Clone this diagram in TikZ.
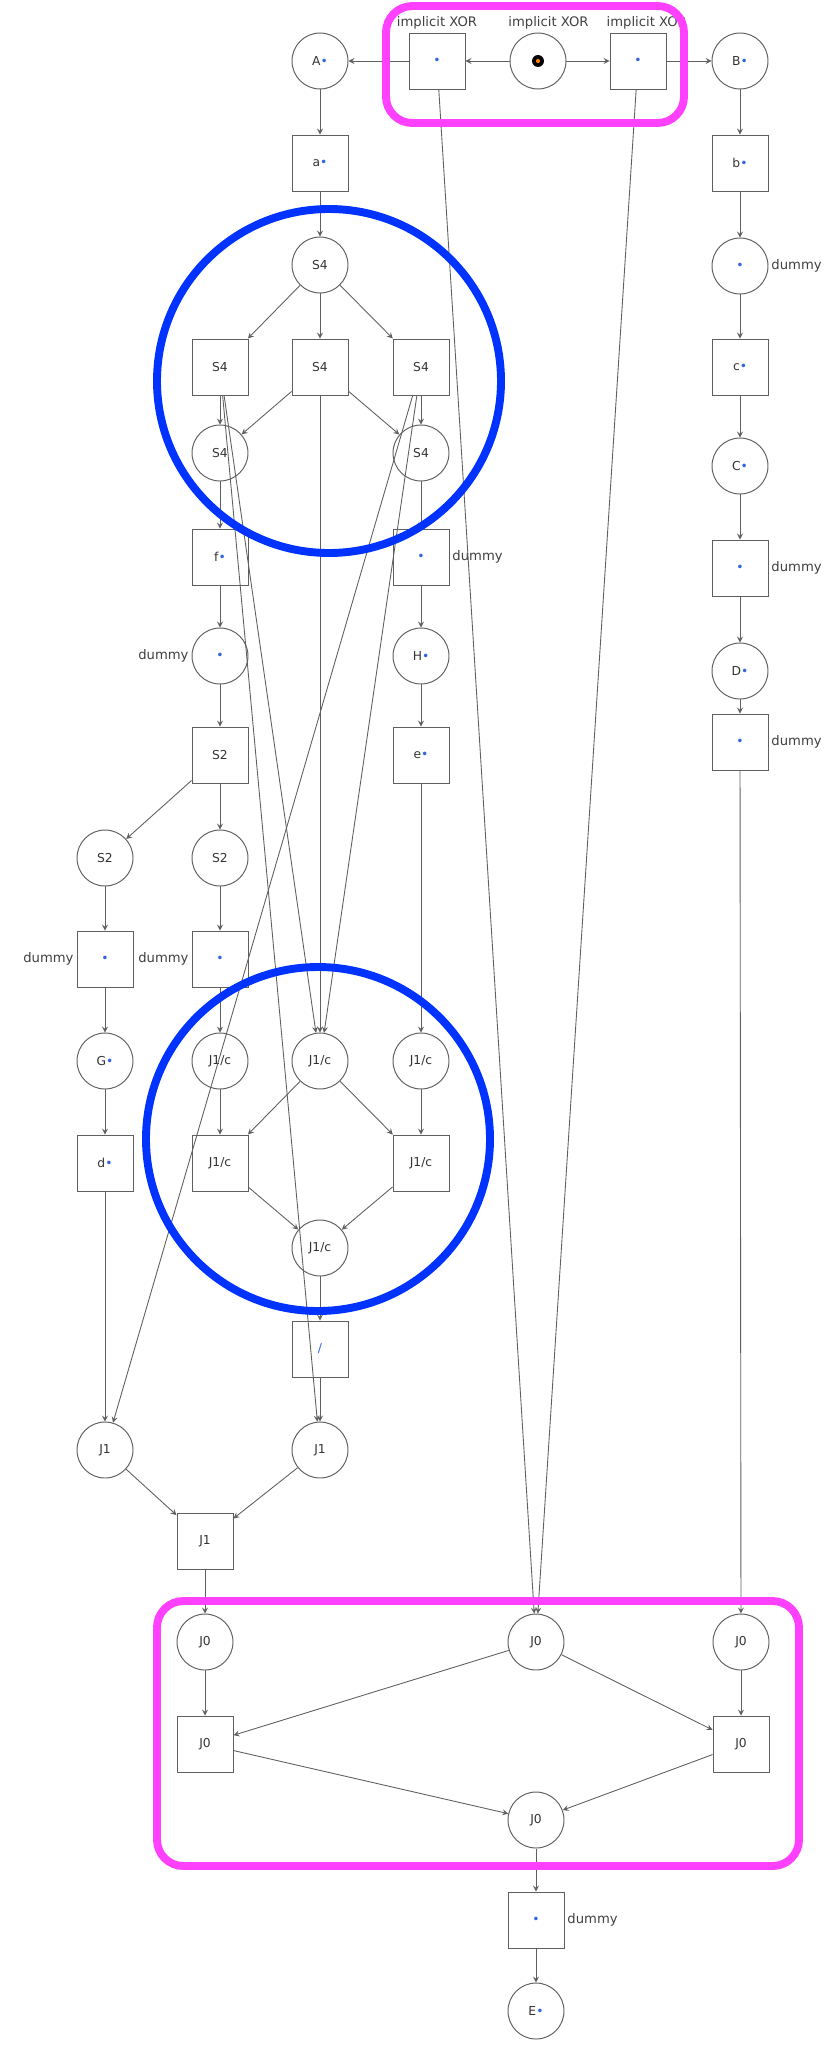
\documentclass[tikz,border=0pt]{standalone}
\usepackage{fontspec}
\setmainfont{DejaVu Sans}
\usepackage{tikz}
\definecolor{tokblue}{RGB}{50,100,230}
\definecolor{ringblue}{RGB}{0,51,255}
\definecolor{boxpink}{RGB}{255,64,255}
\definecolor{netgray}{RGB}{95,95,95}
\newcommand{\tk}{\textcolor{tokblue}{\textbullet}}

\begin{document}
\begin{tikzpicture}[x=0.02cm, y=-0.02cm, >=stealth, font=\fontsize{7.5}{9}\selectfont,
  place/.style={circle, draw=netgray, line width=0.55pt, minimum size=1.12cm, inner sep=0pt,
    text=black!80, font=\fontsize{7}{8}\selectfont},
  trans/.style={rectangle, draw=netgray, line width=0.55pt, minimum size=1.12cm, inner sep=0pt,
    text=black!80, font=\fontsize{7}{8}\selectfont},
  flow/.style={->, draw=netgray, line width=0.5pt},
  note/.style={text=black!75, inner sep=1.5pt, font=\fontsize{7.5}{9}\selectfont}]
\useasboundingbox (0,0) rectangle (826,2048);
% top row with the implicit XOR split
\node[place] (A) at (320,61) {A\tk};
\node[trans, label={[note]above:implicit XOR}] (xl) at (437,61) {\tk};
\node[place, label={[note, xshift=6pt]above:implicit XOR}] (start) at (538,61) {};
\node[trans, label={[note, xshift=5pt]above:implicit XOR}] (xr) at (638,61) {\tk};
\node[place] (B) at (740,61) {B\tk};
\fill[black] (start) circle [radius=3.4pt];
\fill[orange] (start) circle [radius=1.2pt];
% left branch: S4 split
\node[trans] (a) at (320,163) {a\tk};
\node[place] (s4) at (320,265) {S4};
\node[trans] (s4l) at (220,367) {S4};
\node[trans] (s4m) at (320,367) {S4};
\node[trans] (s4r) at (421,367) {S4};
\node[place] (s4pl) at (220,453) {S4};
\node[place] (s4pr) at (421,453) {S4};
\node[trans] (f) at (220,557) {f\tk};
\node[trans, label={[note]right:dummy}] (dr1) at (421,557) {\tk};
\node[place, label={[note]left:dummy}] (dp1) at (220,656) {\tk};
\node[place] (H) at (421,656) {H\tk};
\node[trans] (s2) at (220,755) {S2};
\node[trans] (e) at (421,755) {e\tk};
\node[place] (s2pl) at (105,858) {S2};
\node[place] (s2pr) at (220,858) {S2};
\node[trans, label={[note]left:dummy}] (dl2) at (105,959) {\tk};
\node[trans, label={[note]left:dummy}] (dr2) at (220,959) {\tk};
% J1/c join
\node[place] (G) at (105,1061) {G\tk};
\node[place] (jcl) at (220,1061) {J1/c};
\node[place] (jcm) at (320,1061) {J1/c};
\node[place] (jcr) at (421,1061) {J1/c};
\node[trans] (d) at (105,1163) {d\tk};
\node[trans] (jtl) at (220,1163) {J1/c};
\node[trans] (jtr) at (421,1163) {J1/c};
\node[place] (jcb) at (320,1248) {J1/c};
\node[trans] (g) at (320,1349) {\textcolor{tokblue}{/}};
\node[place] (jl) at (105,1450) {J1};
\node[place] (jr) at (320,1450) {J1};
\node[trans] (j1) at (205,1541) {J1};
% right branch
\node[trans] (b) at (740,163) {b\tk};
\node[place, label={[note]right:dummy}] (dpb) at (740,266) {\tk};
\node[trans] (c) at (740,367) {c\tk};
\node[place] (C) at (740,466) {C\tk};
\node[trans, label={[note]right:dummy}] (db1) at (740,568) {\tk};
\node[place] (D) at (740,671) {D\tk};
\node[trans, label={[note]right:dummy}] (db2) at (740,742) {\tk};
% J0 join and end
\node[place] (j0l) at (205,1642) {J0};
\node[place] (j0m) at (536,1642) {J0};
\node[place] (j0r) at (741,1642) {J0};
\node[trans] (j0tl) at (205,1744) {J0};
\node[trans] (j0tr) at (741,1744) {J0};
\node[place] (j0b) at (536,1820) {J0};
\node[trans, label={[note]right:dummy}] (dend) at (536,1920) {\tk};
\node[place] (E) at (536,2011) {E\tk};
% arcs
\draw[flow] (start) -- (xl);
\draw[flow] (start) -- (xr);
\draw[flow] (xl) -- (A);
\draw[flow] (xr) -- (B);
\draw[flow] (xl) -- (j0m);
\draw[flow] (xr) -- (j0m);
\draw[flow] (A) -- (a);
\draw[flow] (a) -- (s4);
\draw[flow] (s4) -- (s4l);
\draw[flow] (s4) -- (s4m);
\draw[flow] (s4) -- (s4r);
\draw[flow] (s4l) -- (s4pl);
\draw[flow] (s4m) -- (s4pl);
\draw[flow] (s4m) -- (s4pr);
\draw[flow] (s4r) -- (s4pr);
\draw[flow] (s4l) -- (jcm);
\draw[flow] (s4l) -- (jr);
\draw[flow] (s4m) -- (jcm);
\draw[flow] (s4r) -- (jcm);
\draw[flow] (s4r) -- (jl);
\draw[flow] (s4pl) -- (f);
\draw[flow] (s4pr) -- (dr1);
\draw[flow] (f) -- (dp1);
\draw[flow] (dr1) -- (H);
\draw[flow] (dp1) -- (s2);
\draw[flow] (H) -- (e);
\draw[flow] (s2) -- (s2pl);
\draw[flow] (s2) -- (s2pr);
\draw[flow] (s2pl) -- (dl2);
\draw[flow] (s2pr) -- (dr2);
\draw[flow] (e) -- (jcr);
\draw[flow] (dl2) -- (G);
\draw[flow] (dr2) -- (jcl);
\draw[flow] (G) -- (d);
\draw[flow] (jcl) -- (jtl);
\draw[flow] (jcm) -- (jtl);
\draw[flow] (jcm) -- (jtr);
\draw[flow] (jcr) -- (jtr);
\draw[flow] (jtl) -- (jcb);
\draw[flow] (jtr) -- (jcb);
\draw[flow] (jcb) -- (g);
\draw[flow] (g) -- (jr);
\draw[flow] (d) -- (jl);
\draw[flow] (jl) -- (j1);
\draw[flow] (jr) -- (j1);
\draw[flow] (j1) -- (j0l);
\draw[flow] (B) -- (b);
\draw[flow] (b) -- (dpb);
\draw[flow] (dpb) -- (c);
\draw[flow] (c) -- (C);
\draw[flow] (C) -- (db1);
\draw[flow] (db1) -- (D);
\draw[flow] (D) -- (db2);
\draw[flow] (db2) -- (j0r);
\draw[flow] (j0l) -- (j0tl);
\draw[flow] (j0m) -- (j0tl);
\draw[flow] (j0m) -- (j0tr);
\draw[flow] (j0r) -- (j0tr);
\draw[flow] (j0tl) -- (j0b);
\draw[flow] (j0tr) -- (j0b);
\draw[flow] (j0b) -- (dend);
\draw[flow] (dend) -- (E);
% highlights
\draw[ringblue, line width=4.5pt] (329,381) circle [radius=172];
\draw[ringblue, line width=4.5pt] (318,1139) circle [radius=172];
\draw[boxpink, line width=4.5pt, rounded corners=15pt] (386,6) rectangle (684,123);
\draw[boxpink, line width=4.5pt, rounded corners=15pt] (157,1601) rectangle (799,1866);
\end{tikzpicture}
\end{document}
